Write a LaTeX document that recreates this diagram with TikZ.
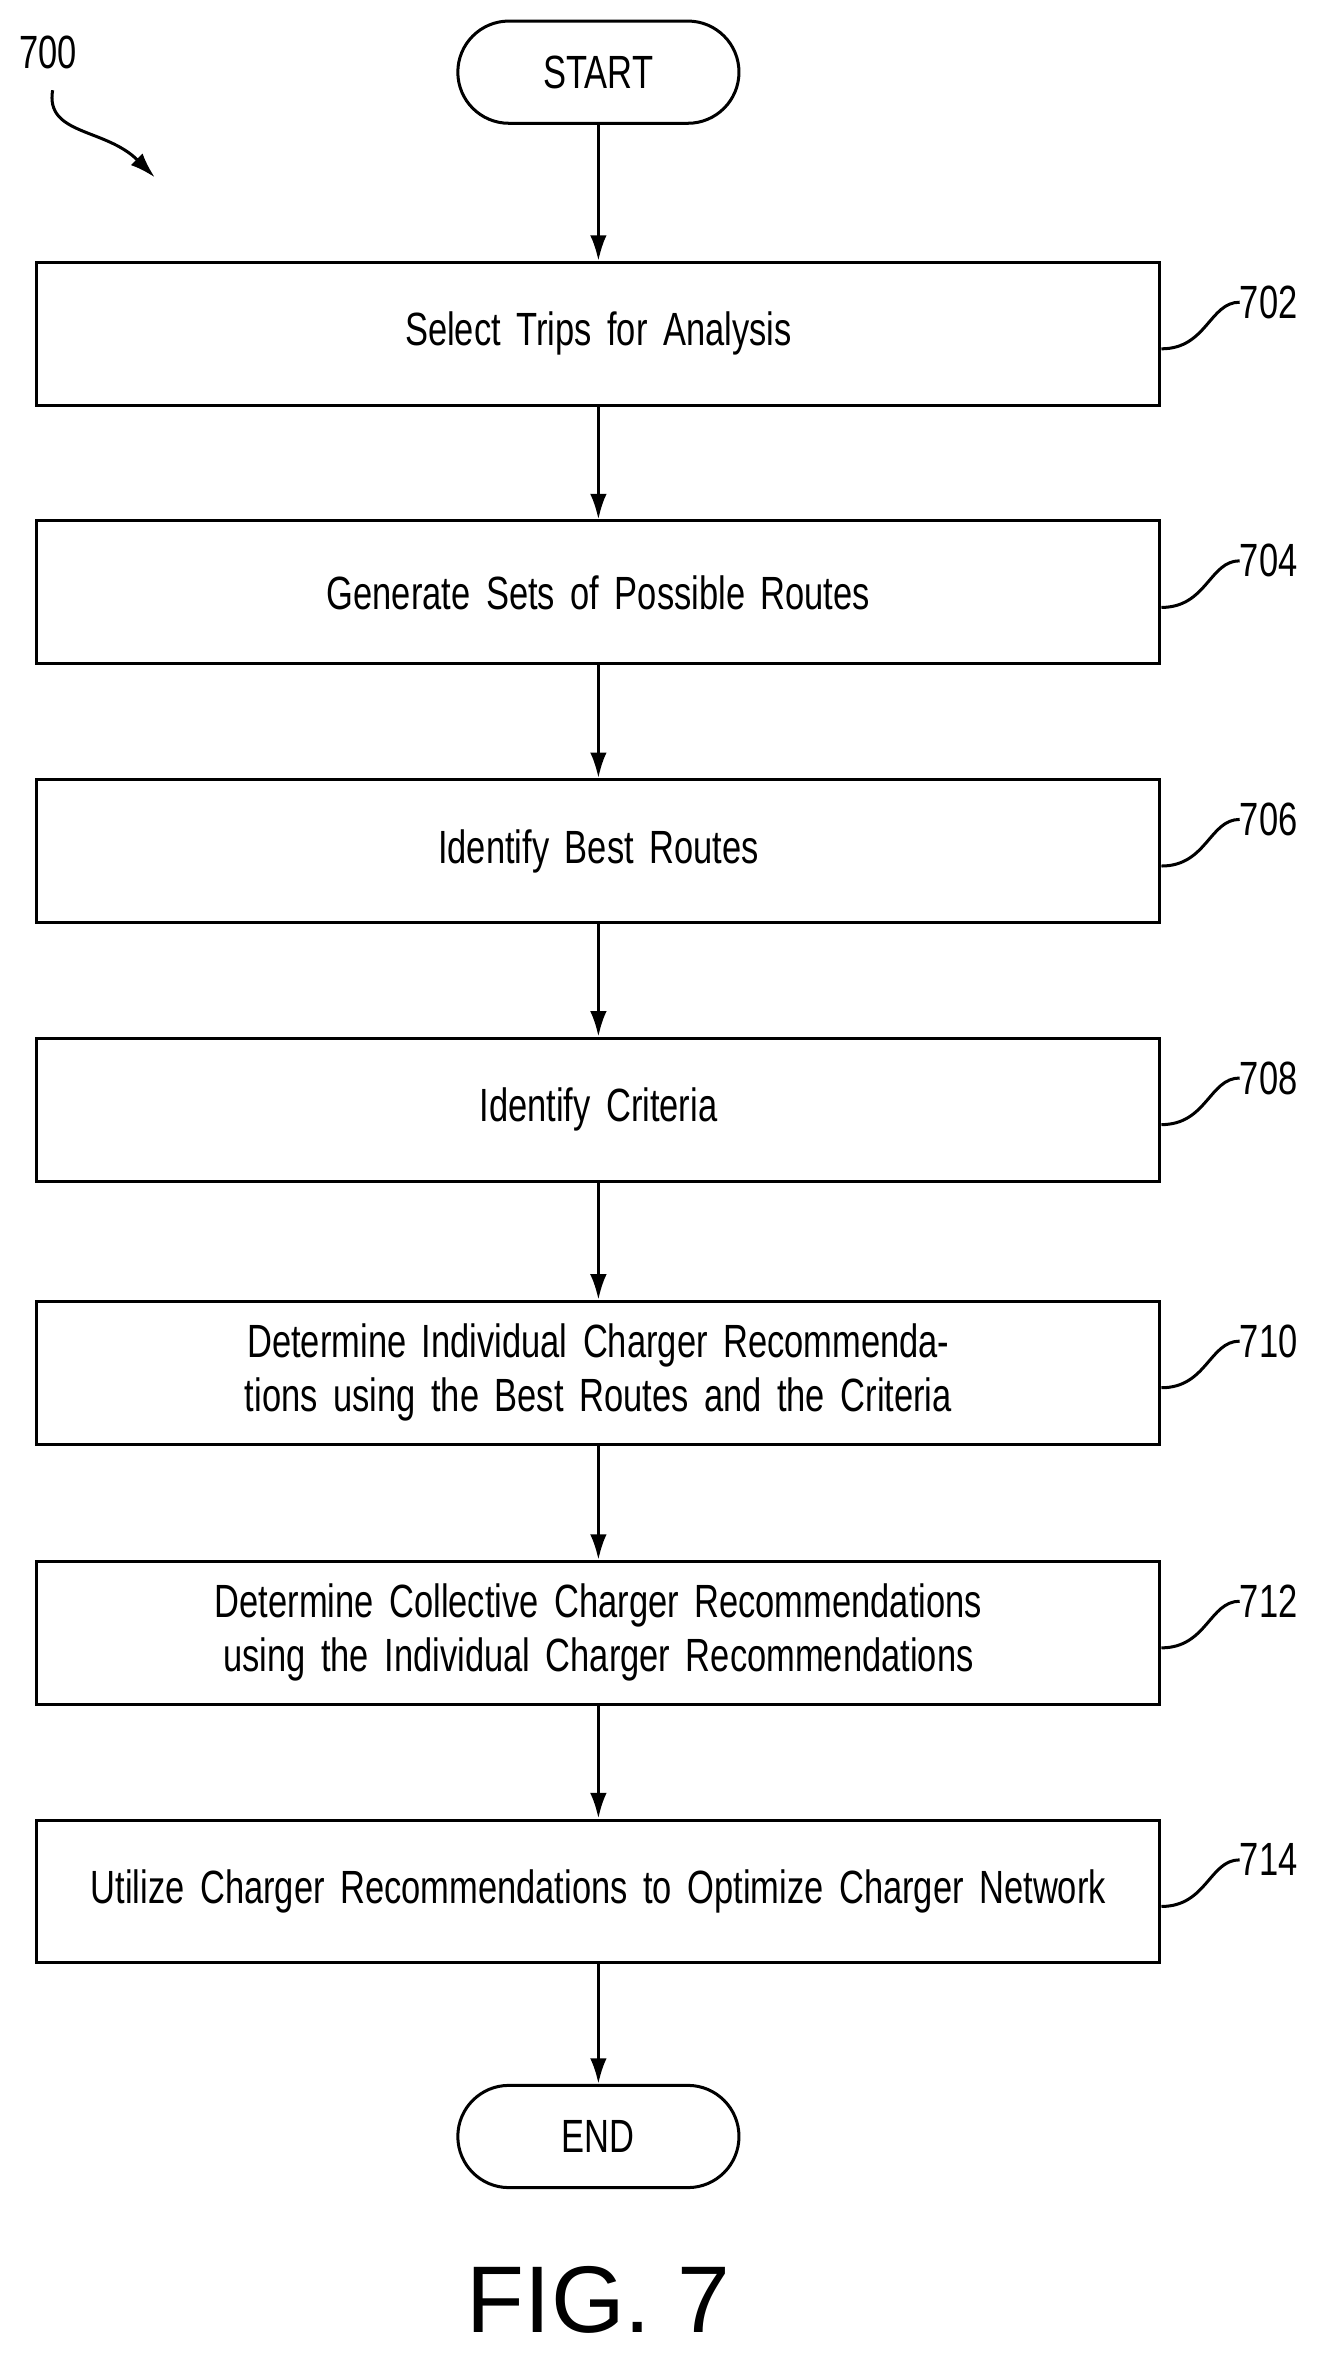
\documentclass[tikz,border=0pt]{standalone}
\usepackage{fontspec}
\setmainfont[FakeStretch=0.74]{Liberation Sans}
\newfontfamily\figfont{Liberation Sans}
\usetikzlibrary{positioning,arrows.meta}
\tikzset{
  procbox/.style={draw, line width=2pt, minimum width=747pt, minimum height=95pt, align=center, text width=690pt},
  term/.style={draw, line width=2pt, rounded corners=34pt, minimum width=187pt, minimum height=68pt},
  flow/.style={line width=2pt, -{Latex[length=17pt,width=11pt]}},
  refnum/.style={line width=2pt},
}
\begin{document}
\begin{tikzpicture}[x=1pt, y=-1pt, font=\fontsize{31}{36}\selectfont]
    \useasboundingbox (0,0) rectangle (880,1571);
    % terminals and steps
    \node[term] (start) at (398,48) {START};
    \node[procbox] (s702) at (398,222) {Select Trips for Analysis};
    \node[procbox] (s704) at (398,394) {Generate Sets of Possible Routes};
    \node[procbox] (s706) at (398,566) {Identify Best Routes};
    \node[procbox] (s708) at (398,738) {Identify Criteria};
    \node[procbox] (s710) at (398,913) {Determine Individual Charger Recommendations using the Best Routes and the Criteria};
    \node[procbox] (s712) at (398,1086) {Determine Collective Charger Recommendations using the Individual Charger Recommendations};
    \node[procbox] (s714) at (398,1258) {Utilize Charger Recommendations to Optimize Charger Network};
    \node[term] (end) at (398,1421) {END};
    \draw[flow] (start) -- (s702);
    \draw[flow] (s702) -- (s704);
    \draw[flow] (s704) -- (s706);
    \draw[flow] (s706) -- (s708);
    \draw[flow] (s708) -- (s710);
    \draw[flow] (s710) -- (s712);
    \draw[flow] (s712) -- (s714);
    \draw[flow] (s714) -- (end);
    % reference numerals
    \foreach \s in {702,704,706,708,710,712,714} {
        \node[anchor=west, inner sep=0pt] (n\s) at ([xshift=52pt,yshift=21pt]s\s.east) {\s};
        \draw[refnum] ([yshift=-10pt]s\s.east) .. controls +(30,0) and +(-20,0) .. (n\s.west);
    }
    \node (n700) at (32,35) {700};
    \coordinate (a700) at (103,118);
    \draw[flow] (35,60) .. controls (30,90) and (70,85) .. (a700);
    \node (fig) at (398,1530) {\figfont\fontsize{63}{70}\selectfont FIG. 7};
\end{tikzpicture}
\end{document}
